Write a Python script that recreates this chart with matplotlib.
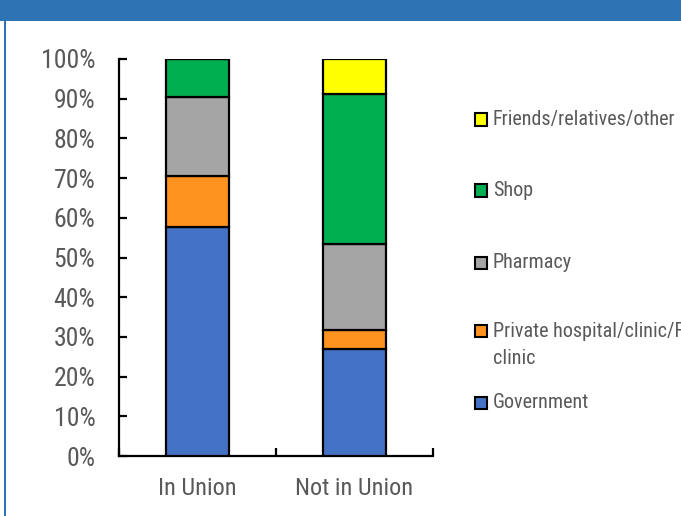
import os
import matplotlib.pyplot as plt
from matplotlib import font_manager as fm
from matplotlib.patches import Rectangle

groups = ['In Union', 'Not in Union']
sources = ['Government', 'Private hospital/clinic/FP clinic', 'Pharmacy', 'Shop',
           'Friends/relatives/other']
legend_labels = ['Government', 'Private hospital/clinic/FP\nclinic', 'Pharmacy', 'Shop',
                 'Friends/relatives/other']
government = [57.7, 27.0]
private = [12.8, 4.7]
pharmacy = [19.9, 21.7]
shop = [9.6, 37.8]
friends = [0.0, 8.8]
colors = ['#4472C4', '#FF9320', '#A5A5A5', '#00B050', '#FFFF00']


def narrow_font():
    # look for a narrow / condensed regular face among installed fonts
    files = [f.fname for f in fm.fontManager.ttflist]
    prefs = ['LiberationSansNarrow-Regular', 'RobotoCondensed-Regular', 'DejaVuSansCondensed.',
             'OpenSans_Condensed-Regular', 'OpenSansCondensed', 'NotoSans-Condensed.',
             'Roboto_Condensed-Regular']
    for p in prefs:
        for f in files:
            if p.lower() in os.path.basename(f).lower():
                return f
    for f in files:
        b = os.path.basename(f).lower()
        if ('condensed' in b or 'narrow' in b) and 'bold' not in b and 'italic' not in b \
                and 'light' not in b and 'oblique' not in b:
            return f
    return None


nf = narrow_font()


def fp(size):
    if nf:
        return fm.FontProperties(fname=nf, size=size)
    return fm.FontProperties(family='DejaVu Sans', size=size * 0.8)


W, H = 681, 516
fig = plt.figure(figsize=(W / 100, H / 100), dpi=100)
fig.patch.set_facecolor('white')

# header band + left frame line
fig.patches.append(Rectangle((0, 1 - 21 / H), 1, 21 / H, transform=fig.transFigure,
                             facecolor='#2E74B5', edgecolor='none', zorder=0))
fig.patches.append(Rectangle((4 / W, 0), 2 / W, 1 - 21 / H, transform=fig.transFigure,
                             facecolor='#2E74B5', edgecolor='none', zorder=0))

ax = fig.add_axes([119 / W, 1 - 456 / H, (433 - 119) / W, (456 - 59) / H])

tick_color = '#595959'

series = [government, private, pharmacy, shop, friends]
bottom = [0.0, 0.0]
for vals, c, name in zip(series, colors, sources):
    ax.bar(range(len(groups)), vals, 0.395, bottom=bottom, color=c,
           edgecolor='black', linewidth=1.6, label=name, zorder=3)
    bottom = [b + v for b, v in zip(bottom, vals)]

ax.set_xlim(-0.5, 1.5)
ax.set_ylim(0, 100)
ax.set_yticks(range(0, 101, 10))
ax.set_yticklabels([f'{t}%' for t in range(0, 101, 10)])
ax.set_xticks(range(len(groups)))
ax.set_xticklabels(groups)
ax.set_xticks([-0.5, 0.5, 1.5], minor=True)

for s in ['top', 'right']:
    ax.spines[s].set_visible(False)
for s in ['left', 'bottom']:
    ax.spines[s].set_linewidth(1.6)
    ax.spines[s].set_color('black')

ax.tick_params(axis='y', direction='in', length=6, width=1.6, pad=17,
               labelcolor=tick_color)
ax.tick_params(axis='x', which='major', length=0, pad=15, labelcolor=tick_color)
ax.tick_params(axis='x', which='minor', direction='in', length=6, width=1.6)
for lab in ax.get_yticklabels():
    lab.set_fontproperties(fp(18.5))
for lab in ax.get_xticklabels():
    lab.set_fontproperties(fp(17.5))

# legend, top to bottom in reverse stack order
rows = [119, 190, 262, 330, 402]
for i, y in enumerate(rows):
    k = len(sources) - 1 - i
    fig.patches.append(Rectangle((475 / W, 1 - (y + 6.5) / H), 12 / W, 12 / H,
                                 transform=fig.transFigure, facecolor=colors[k],
                                 edgecolor='black', linewidth=1.5))
    txt = legend_labels[k]
    if '\n' in txt:
        fig.text(493 / W, 1 - (y + 15) / H, txt, ha='left', va='center',
                 fontproperties=fp(14.5), color=tick_color, linespacing=1.55)
    else:
        fig.text(493 / W, 1 - (y + 1) / H, txt, ha='left', va='center',
                 fontproperties=fp(14.5), color=tick_color)

fig.savefig('out.png', dpi=100)
